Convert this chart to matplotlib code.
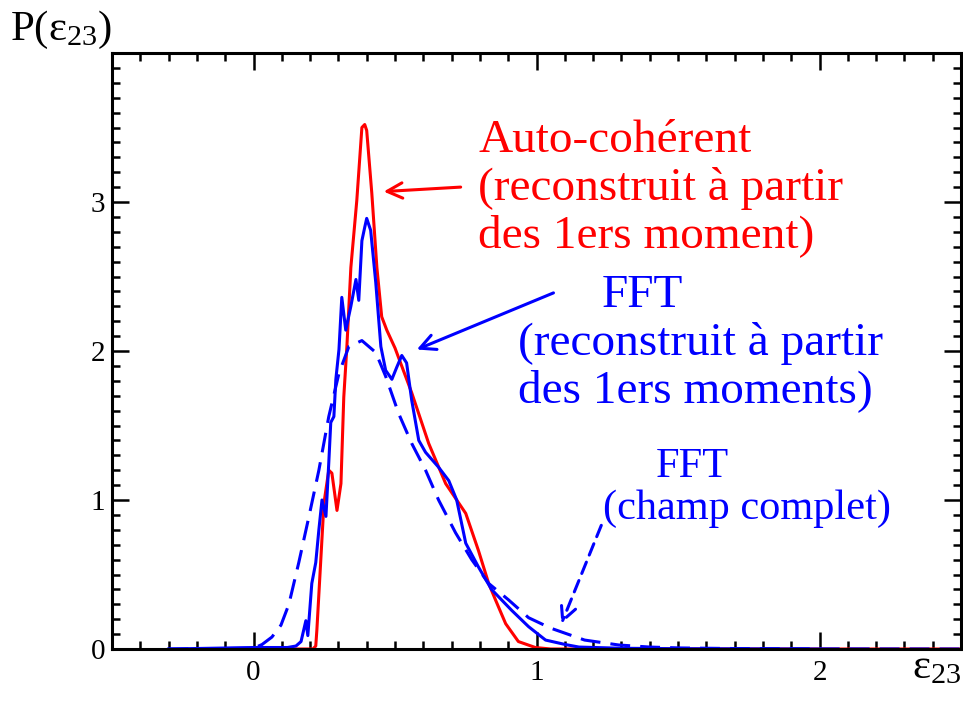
import matplotlib
matplotlib.use("Agg")
import matplotlib.pyplot as plt
from matplotlib.ticker import MultipleLocator, FixedLocator

# ---- data ----
red_x = [0.0, 0.21, 0.22, 0.224, 0.249, 0.266, 0.277, 0.295, 0.309, 0.319, 0.330, 0.344,
         0.365, 0.383, 0.393, 0.400, 0.418, 0.436, 0.453, 0.471, 0.50, 0.559, 0.619,
         0.679, 0.750, 0.795, 0.831, 0.855, 0.891, 0.936, 0.996, 1.05, 2.5]
red_y = [0.0, 0.0, 0.02, 0.13, 0.98, 1.20, 1.18, 0.93, 1.11, 1.69, 2.03, 2.56,
         3.01, 3.50, 3.52, 3.48, 3.06, 2.56, 2.23, 2.14, 2.02, 1.72, 1.38,
         1.11, 0.91, 0.66, 0.44, 0.33, 0.17, 0.05, 0.01, 0.0, 0.0]

fft_x = [-0.3, 0.0, 0.12, 0.15, 0.168, 0.185, 0.192, 0.206, 0.220, 0.231, 0.242, 0.256,
         0.266, 0.273, 0.284, 0.291, 0.302, 0.312, 0.326, 0.344, 0.362, 0.372, 0.383,
         0.393, 0.400, 0.414, 0.432, 0.450, 0.467, 0.489, 0.506, 0.524, 0.541, 0.559,
         0.584, 0.608, 0.654, 0.690, 0.718, 0.750, 0.795, 0.841, 0.912, 0.972, 1.032,
         1.102, 1.15, 1.3, 1.5, 2.0]
fft_y = [0.0, 0.01, 0.01, 0.02, 0.05, 0.19, 0.09, 0.44, 0.58, 0.80, 1.00, 0.89,
         1.25, 1.52, 1.56, 1.81, 2.01, 2.36, 2.14, 2.30, 2.48, 2.34, 2.74,
         2.83, 2.89, 2.81, 2.46, 2.03, 1.87, 1.81, 1.89, 1.97, 1.92, 1.67,
         1.40, 1.32, 1.22, 1.13, 1.00, 0.71, 0.55, 0.40, 0.26, 0.15, 0.06,
         0.03, 0.013, 0.005, 0.002, 0.0]

full_x = [-0.3, 0.0, 0.03, 0.065, 0.097, 0.125, 0.160, 0.196, 0.231, 0.266, 0.302,
          0.337, 0.383, 0.432, 0.467, 0.513, 0.559, 0.608, 0.654, 0.714, 0.771,
          0.831, 0.901, 0.972, 1.05, 1.17, 1.29, 1.40, 1.51, 1.7, 2.0, 2.5]
full_y = [0.0, 0.005, 0.03, 0.08, 0.16, 0.30, 0.58, 0.89, 1.20, 1.56, 1.85,
          2.03, 2.07, 1.99, 1.83, 1.58, 1.38, 1.20, 1.00, 0.78, 0.60,
          0.44, 0.33, 0.21, 0.14, 0.06, 0.027, 0.013, 0.007, 0.003, 0.001, 0.0]

x_ticks = [0, 1, 2]
x_tick_labels = ["0", "1", "2"]
y_ticks = [0, 1, 2, 3, 4]
y_tick_labels = ["0", "1", "2", "3", ""]

RED = "#ff0000"
BLUE = "#0000ff"

plt.rcParams["font.family"] = ["Liberation Serif", "DejaVu Serif"]
plt.rcParams["mathtext.fontset"] = "custom"
plt.rcParams["mathtext.rm"] = "Liberation Serif"
plt.rcParams["mathtext.it"] = "Liberation Serif:italic"
plt.rcParams["mathtext.bf"] = "Liberation Serif:bold"

fig = plt.figure(figsize=(9.63, 7.04), dpi=100)
ax = fig.add_axes([112 / 963, 55 / 704, (961 - 112) / 963, (651 - 55) / 704])

ax.plot(red_x, red_y, color=RED, lw=2.2, solid_joinstyle="round")
ax.plot(full_x, full_y, color=BLUE, lw=2.2, dashes=(6.5, 3.3))
ax.plot(fft_x, fft_y, color=BLUE, lw=2.2, solid_joinstyle="round")

ax.set_xlim(-0.5, 2.5)
ax.set_ylim(0, 4)
ax.xaxis.set_major_locator(FixedLocator(x_ticks))
ax.set_xticklabels(x_tick_labels)
ax.yaxis.set_major_locator(FixedLocator(y_ticks))
ax.set_yticklabels(y_tick_labels)
ax.xaxis.set_minor_locator(MultipleLocator(0.1))
ax.yaxis.set_minor_locator(MultipleLocator(0.1))
ax.tick_params(which="both", direction="in", top=True, right=True,
               width=1.8, labelsize=21, colors="black")
ax.tick_params(which="major", length=12)
ax.tick_params(which="minor", length=5.8)
ax.tick_params(axis="x", pad=8)
ax.tick_params(axis="y", pad=5)
for s in ax.spines.values():
    s.set_linewidth(2.2)

# annotations
big = 34
small = 30.5
for txt, yy in [("Auto-cohérent", 3.336), ("(reconstruit à partir", 3.013),
                ("des 1ers moment)", 2.698)]:
    ax.text(0.795, yy, txt, color=RED, fontsize=big, ha="left", va="baseline")
ax.text(1.229, 2.295, "FFT", color=BLUE, fontsize=big, ha="left", va="baseline")
ax.text(0.936, 1.973, "(reconstruit à partir", color=BLUE, fontsize=big, ha="left", va="baseline")
ax.text(0.936, 1.658, "des 1ers moments)", color=BLUE, fontsize=big, ha="left", va="baseline")
ax.text(1.420, 1.154, "FFT", color=BLUE, fontsize=small, ha="left", va="baseline")
ax.text(1.236, 0.872, "(champ complet)", color=BLUE, fontsize=small, ha="left", va="baseline")

ax.annotate("", xy=(0.460, 3.07), xytext=(0.732, 3.10),
            arrowprops=dict(arrowstyle="->,head_length=0.5,head_width=0.25",
                            color=RED, lw=2.2, mutation_scale=22,
                            shrinkA=0, shrinkB=0))
ax.annotate("", xy=(0.577, 2.01), xytext=(1.060, 2.39),
            arrowprops=dict(arrowstyle="->,head_length=0.5,head_width=0.25",
                            color=BLUE, lw=2.2, mutation_scale=22,
                            shrinkA=0, shrinkB=0))
ax.annotate("", xy=(1.088, 0.17), xytext=(1.229, 0.83),
            arrowprops=dict(arrowstyle="->,head_length=0.5,head_width=0.25",
                            color=BLUE, lw=2.2, ls=(0, (4, 2.5)), mutation_scale=22,
                            shrinkA=0, shrinkB=0))

fig.text(10 / 963, 1 - 40 / 704, r"P($\mathrm{ε}_{\mathrm{23}}$)", fontsize=31,
         ha="left", va="baseline")
fig.text(912 / 963, 1 - 678 / 704, r"$\mathrm{ε}_{\mathrm{23}}$", fontsize=31,
         ha="left", va="baseline")

fig.savefig("out.png", dpi=100)
